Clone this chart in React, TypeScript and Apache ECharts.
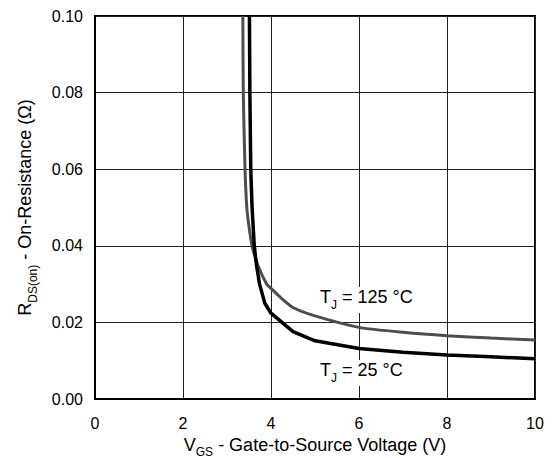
import React, { useEffect, useRef } from "react";
import * as echarts from "echarts";

const xTicks = [0, 2, 4, 6, 8, 10];
const yTicks = ["0.00", "0.02", "0.04", "0.06", "0.08", "0.10"];

// T_J = 125 °C
const vgs125 = [3.36, 3.37, 3.41, 3.45, 3.5, 3.57, 3.7, 3.9, 4.0, 4.2, 4.5, 5.0, 6.0, 7.0, 8.0, 9.0, 10.0];
const rds125 = [0.1, 0.08, 0.06, 0.05, 0.045, 0.04, 0.035, 0.03, 0.0289, 0.0267, 0.0239, 0.0217, 0.0187, 0.0174, 0.0165, 0.0159, 0.0154];

// T_J = 25 °C
const vgs25 = [3.51, 3.52, 3.54, 3.57, 3.62, 3.67, 3.74, 3.86, 4.0, 4.5, 5.0, 6.0, 7.0, 8.0, 9.0, 10.0];
const rds25 = [0.1, 0.08, 0.06, 0.05, 0.04, 0.035, 0.03, 0.025, 0.0224, 0.0176, 0.0152, 0.0132, 0.0122, 0.0115, 0.011, 0.0105];

const FONT = "Liberation Sans, Arial, Helvetica, sans-serif";

const rich18 = {
  m: { fontSize: 18, lineHeight: 18, verticalAlign: "top", fontFamily: FONT, color: "#000" },
  s: { fontSize: 12, lineHeight: 23, verticalAlign: "bottom", fontFamily: FONT, color: "#000" },
};
const richName = {
  m: { fontSize: 18, lineHeight: 18, verticalAlign: "top", fontFamily: FONT, color: "#000" },
  s: { fontSize: 12, lineHeight: 22, verticalAlign: "bottom", fontFamily: FONT, color: "#000" },
};

export default function App() {
  const ref = useRef<HTMLDivElement>(null);
  useEffect(() => {
    if (!ref.current) return;
    const chart = echarts.init(ref.current, null, { renderer: "svg" });
    chart.setOption({
      animation: false,
      backgroundColor: "#fff",
      grid: {
        left: 95,
        right: 20,
        top: 16,
        bottom: 59,
        show: true,
        borderColor: "#000",
        borderWidth: 2,
        outerBoundsMode: "none",
        containLabel: false,
      },
      xAxis: {
        type: "value",
        min: 0,
        max: 10,
        interval: 2,
        name: "{m|V}{s|GS}{m| - Gate-to-Source Voltage (V)}",
        nameLocation: "middle",
        nameGap: 35,
        nameTextStyle: { rich: richName },
        axisLine: { show: true, lineStyle: { color: "#000", width: 2 } },
        axisTick: { show: false },
        splitLine: { show: true, lineStyle: { color: "#222", width: 1 } },
        axisLabel: {
          margin: 16,
          fontSize: 16,
          fontFamily: FONT,
          color: "#000",
          formatter: (v: number) => (xTicks.includes(v) ? String(v) : ""),
        },
      },
      yAxis: {
        type: "value",
        min: 0,
        max: 0.1,
        interval: 0.02,
        name: "{m|R}{s|DS(on)}{m| - On-Resistance (Ω)}",
        nameLocation: "middle",
        nameGap: 56,
        nameTextStyle: { rich: rich18 },
        axisLine: { show: true, lineStyle: { color: "#000", width: 2 } },
        axisTick: { show: false },
        splitLine: { show: true, lineStyle: { color: "#222", width: 1 } },
        axisLabel: {
          margin: 12,
          fontSize: 16,
          fontFamily: FONT,
          color: "#000",
          formatter: (v: number) => yTicks[Math.round(v / 0.02)] ?? "",
        },
      },
      series: [
        {
          type: "line",
          name: "TJ = 125 °C",
          data: vgs125.map((x, i) => [x, rds125[i]]),
          showSymbol: false,
          symbol: "none",
          clip: true,
          smooth: 0.2,
          lineStyle: { color: "#4d4d4d", width: 3 },
          z: 3,
        },
        {
          type: "line",
          name: "TJ = 25 °C",
          data: vgs25.map((x, i) => [x, rds25[i]]),
          showSymbol: false,
          symbol: "none",
          clip: true,
          lineStyle: { color: "#000", width: 3.5 },
          z: 4,
        },
      ],
      graphic: [
        {
          type: "text",
          left: 319,
          top: 287,
          z: 10,
          style: {
            text: "{m|T}{s|J}{m| = 125 °C}",
            rich: rich18,
            backgroundColor: "#fff",
            padding: [1, 1, 2, 1],
          },
        },
        {
          type: "text",
          left: 319,
          top: 360,
          z: 10,
          style: {
            text: "{m|T}{s|J}{m| = 25 °C}",
            rich: rich18,
            backgroundColor: "#fff",
            padding: [1, 1, 2, 1],
          },
        },
      ],
    });
    return () => chart.dispose();
  }, []);
  return <div ref={ref} style={{ width: 555, height: 458, position: "absolute", left: 0, top: 0 }} />;
}
